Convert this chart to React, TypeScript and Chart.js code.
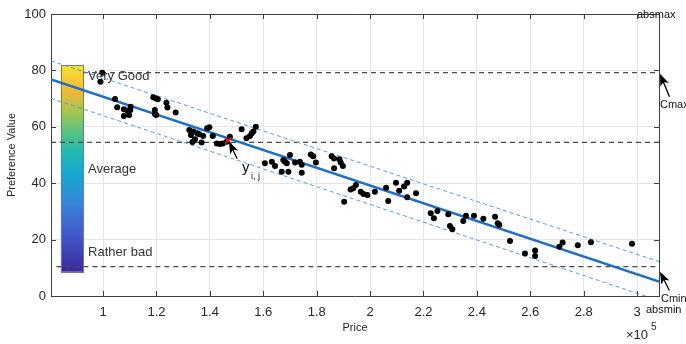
import React, { useEffect, useRef } from 'react';
import { Chart, registerables } from 'chart.js';

Chart.register(...registerables);

// ---- data ----
const X_MIN = 80500;
const X_MAX = 308200;
const xTicks = [100000, 120000, 140000, 160000, 180000, 200000, 220000, 240000, 260000, 280000, 300000];
const xTickLabels = ['1', '1.2', '1.4', '1.6', '1.8', '2', '2.2', '2.4', '2.6', '2.8', '3'];
const yTicks = [0, 20, 40, 60, 80, 100];

const prices = [
  99700, 99000,
  104500, 105300, 107800, 107800, 109100, 109800, 110200, 110300,
  118800, 119700, 120500, 119400, 119400, 119900, 123700, 124100, 127200,
  132300, 132900, 133800, 134400, 135300, 136000, 136900, 137500, 139000, 139800, 141100, 142600, 143800, 144800, 146300, 147500, 133500,
  151900, 155000, 155700, 156300, 157200, 153700,
  160600, 163200, 164400, 167500, 168100, 168800, 166900, 169400, 170000, 171900, 173700, 174400, 174400, 177800, 178700, 179700,
  185600, 186500, 186500, 188500, 189000, 189800, 190300,
  192700, 193700, 194700, 196500, 197500, 199000, 201800, 206000, 206800, 209700, 210900, 212700, 213900, 213900, 217200,
  222700, 223900, 225200, 229300, 229900, 230800, 234900, 235900, 238900, 242400, 246800, 247800, 248400, 252400, 258000, 261800, 261800, 270900, 272100, 277800, 282700, 298100,
];
const preferences = [
  79.2, 76.0,
  69.9, 66.9, 66.2, 63.8, 65.7, 64.2, 66.0, 67.1,
  70.5, 70.1, 69.8, 66.0, 64.5, 64.2, 68.5, 66.8, 65.1,
  58.9, 57.1, 58.3, 55.6, 57.7, 57.4, 54.4, 56.7, 59.5, 59.8, 56.7, 54.1, 53.9, 54.1, 54.7, 56.5, 54.6,
  59.1, 56.7, 57.7, 58.3, 60.0, 55.9,
  47.1, 47.6, 46.1, 48.2, 47.6, 47.1, 44.1, 44.1, 50.0, 47.3, 47.6, 46.5, 43.7, 50.2, 49.6, 47.3,
  49.6, 48.8, 45.3, 48.5, 47.3, 46.1, 33.4,
  37.8, 38.2, 39.4, 37.0, 36.2, 35.8, 37.0, 38.4, 33.7, 40.2, 37.3, 38.8, 40.2, 35.0, 36.4,
  29.3, 27.6, 30.1, 29.0, 24.8, 23.7, 26.6, 28.5, 28.5, 27.4, 28.1, 25.8, 25.2, 19.5, 15.1, 16.1, 14.2, 17.5, 19.0, 18.0, 19.1, 18.5,
];

// fitted line and band end points
const fitX = [X_MIN, X_MAX];
const fitY = [76.8, 5.1];
const upperY = [83.4, 12.2];
const lowerY = [70.1, -1.6];

// reference levels: Cmax, mid, Cmin-ish
const refLevels = [79.2, 54.5, 10.4];
const refStarts = [92500, X_MIN, 82500];

// highlighted sample y_ij
const markX = [146800];
const markY = [55.1];

// colorbar
const cbarX = [84200, 92500];
const cbarY = [8.6, 81.9];
const cbarLabels = ['Very Good', 'Average', 'Rather bad'];
const cbarLabelY = [78.0, 45.0, 15.6];
const parula: [number, string][] = [
  [0.0, '#3b2a9c'],
  [0.18, '#4259cc'],
  [0.33, '#3685d9'],
  [0.47, '#17a8d2'],
  [0.58, '#22b9b0'],
  [0.68, '#5bc383'],
  [0.78, '#a8c54c'],
  [0.87, '#f0b93a'],
  [0.93, '#f9c935'],
  [1.0, '#efe62a'],
];

const pts = prices.map((p, i) => ({ x: p, y: preferences[i] }));

function arrow(ctx: CanvasRenderingContext2D, tx: number, ty: number, dx: number, dy: number, len: number) {
  const l = Math.hypot(dx, dy);
  const ux = dx / l, uy = dy / l;
  const px = -uy, py = ux;
  const head = 12, hw = 4.5;
  ctx.save();
  ctx.fillStyle = '#000';
  ctx.strokeStyle = '#000';
  ctx.beginPath();
  ctx.moveTo(tx, ty);
  ctx.lineTo(tx + ux * head + px * hw, ty + uy * head + py * hw);
  ctx.lineTo(tx + ux * head * 0.75, ty + uy * head * 0.75);
  ctx.lineTo(tx + ux * head - px * hw, ty + uy * head - py * hw);
  ctx.closePath();
  ctx.fill();
  ctx.lineWidth = 1.3;
  ctx.beginPath();
  ctx.moveTo(tx + ux * head * 0.7, ty + uy * head * 0.7);
  ctx.lineTo(tx + ux * len, ty + uy * len);
  ctx.stroke();
  ctx.restore();
}

const FONT = '"Liberation Sans", Arial, sans-serif';

const decor = {
  id: 'decor',
  beforeDatasetsDraw(chart: any) {
    const { ctx, scales } = chart;
    const x = scales.x, y = scales.y;
    const x0 = x.getPixelForValue(cbarX[0]);
    const x1 = x.getPixelForValue(cbarX[1]);
    const yb = y.getPixelForValue(cbarY[0]);
    const yt = y.getPixelForValue(cbarY[1]);
    const g = ctx.createLinearGradient(0, yb, 0, yt);
    parula.forEach(([s, c]) => g.addColorStop(s, c));
    ctx.save();
    ctx.fillStyle = g;
    ctx.fillRect(x0, yt, x1 - x0, yb - yt);
    ctx.strokeStyle = '#7a7a7a';
    ctx.lineWidth = 1;
    ctx.strokeRect(Math.round(x0) + 0.5, Math.round(yt) + 0.5, Math.round(x1 - x0), Math.round(yb - yt));
    ctx.fillStyle = '#333';
    ctx.font = `13px ${FONT}`;
    ctx.textBaseline = 'middle';
    ctx.textAlign = 'left';
    cbarLabels.forEach((t, i) => ctx.fillText(t, x1 + 5, y.getPixelForValue(cbarLabelY[i])));
    ctx.restore();
  },
  afterDraw(chart: any) {
    const { ctx, scales, chartArea: a } = chart;
    const x = scales.x, y = scales.y;
    ctx.save();
    // box + inward ticks
    ctx.strokeStyle = '#404040';
    ctx.lineWidth = 1;
    ctx.beginPath();
    ctx.moveTo(a.left, a.top + 0.5);
    ctx.lineTo(a.right + 0.5, a.top + 0.5);
    ctx.lineTo(a.right + 0.5, a.bottom);
    xTicks.forEach((v) => {
      const px = Math.round(x.getPixelForValue(v)) + 0.5;
      ctx.moveTo(px, a.bottom);
      ctx.lineTo(px, a.bottom - 5);
      ctx.moveTo(px, a.top);
      ctx.lineTo(px, a.top + 5);
    });
    yTicks.forEach((v) => {
      const py = Math.round(y.getPixelForValue(v)) + 0.5;
      ctx.moveTo(a.left, py);
      ctx.lineTo(a.left + 5, py);
      ctx.moveTo(a.right, py);
      ctx.lineTo(a.right - 5, py);
    });
    ctx.stroke();

    // axis titles
    ctx.fillStyle = '#262626';
    ctx.font = `11px ${FONT}`;
    ctx.textAlign = 'center';
    ctx.textBaseline = 'middle';
    ctx.fillText('Price', (a.left + a.right) / 2, 328);
    ctx.save();
    ctx.translate(12, (a.top + a.bottom) / 2);
    ctx.rotate(-Math.PI / 2);
    ctx.fillText('Preference Value', 0, 0);
    ctx.restore();

    // exponent
    ctx.textAlign = 'left';
    ctx.font = `13px ${FONT}`;
    ctx.fillText('×10', a.right - 33, 335);
    ctx.font = `10px ${FONT}`;
    ctx.fillText('5', a.right - 8, 327);

    // y_ij annotation
    const mx = x.getPixelForValue(markX[0]);
    const my = y.getPixelForValue(markY[0]);
    arrow(ctx, mx + 1, my + 1, 8, 17, 19);
    ctx.fillStyle = '#111';
    ctx.textBaseline = 'alphabetic';
    ctx.font = `15px ${FONT}`;
    ctx.fillText('y', mx + 14, my + 31);
    ctx.font = `9px ${FONT}`;
    ctx.fillText('i, j', mx + 23, my + 38);

    // Cmax / Cmin annotations
    const rx = x.getPixelForValue(X_MAX);
    const cmaxY = y.getPixelForValue(refLevels[0]);
    const cminY = y.getPixelForValue(8.6);
    arrow(ctx, rx + 1, cmaxY + 1, 9, 22, 25);
    arrow(ctx, rx + 1, cminY, 9, 18, 21);
    ctx.font = `11px ${FONT}`;
    ctx.fillStyle = '#111';
    ctx.textBaseline = 'middle';
    ctx.fillText('Cmax', rx + 1, cmaxY + 32);
    ctx.fillText('Cmin', rx + 2, a.bottom + 3);
    ctx.fillText('absmin', rx - 13, a.bottom + 14);
    ctx.fillText('absmax', rx - 22, a.top + 1);
    ctx.restore();
  },
};

export default function App() {
  const ref = useRef<HTMLCanvasElement>(null);
  useEffect(() => {
    const refSets = refLevels.map((lv, i) => ({
      type: 'line' as const,
      data: [{ x: refStarts[i], y: lv }, { x: X_MAX, y: lv }],
      borderColor: '#4a4a4a',
      borderWidth: 1.2,
      borderDash: [5, 4],
      pointRadius: 0,
      fill: false,
    }));
    const chart = new Chart(ref.current as HTMLCanvasElement, {
      type: 'scatter',
      data: {
        datasets: [
          {
            data: markX.map((v, i) => ({ x: v, y: markY[i] })),
            pointStyle: 'crossRot',
            pointRadius: 4.5,
            borderColor: '#e02020',
            borderWidth: 1.6,
            backgroundColor: '#e02020',
          },
          {
            data: pts,
            pointRadius: 3,
            pointBackgroundColor: '#000',
            pointBorderColor: '#000',
            pointBorderWidth: 0,
          },
          {
            type: 'line',
            data: fitX.map((v, i) => ({ x: v, y: fitY[i] })),
            borderColor: '#1f6fc2',
            borderWidth: 2.6,
            pointRadius: 0,
            fill: false,
          },
          {
            type: 'line',
            data: fitX.map((v, i) => ({ x: v, y: upperY[i] })),
            borderColor: '#5a9ee0',
            borderWidth: 1,
            borderDash: [4, 3],
            pointRadius: 0,
            fill: false,
          },
          {
            type: 'line',
            data: fitX.map((v, i) => ({ x: v, y: lowerY[i] })),
            borderColor: '#5a9ee0',
            borderWidth: 1,
            borderDash: [4, 3],
            pointRadius: 0,
            fill: false,
          },
          ...refSets,
        ] as any,
      },
      options: {
        responsive: false,
        animation: false,
        devicePixelRatio: 1,
        layout: { padding: { left: 0, right: 27, top: 14, bottom: 0 } },
        plugins: { legend: { display: false }, tooltip: { enabled: false } },
        scales: {
          x: {
            type: 'linear',
            min: X_MIN,
            max: X_MAX,
            afterBuildTicks: (s: any) => { s.ticks = xTicks.map((v) => ({ value: v })); },
            afterFit: (s: any) => { s.height = 48; },
            grid: { color: '#e6e6e6', drawTicks: false },
            border: { display: true, color: '#404040' },
            ticks: {
              autoSkip: false,
              maxRotation: 0,
              padding: 9,
              color: '#262626',
              font: { size: 13, family: FONT },
              callback: (_v: any, i: number) => xTickLabels[i],
            },
          },
          y: {
            type: 'linear',
            min: 0,
            max: 100,
            afterBuildTicks: (s: any) => { s.ticks = yTicks.map((v) => ({ value: v })); },
            afterFit: (s: any) => { s.width = 51; },
            grid: { color: '#e6e6e6', drawTicks: false },
            border: { display: true, color: '#404040' },
            ticks: {
              padding: 5,
              color: '#262626',
              font: { size: 13, family: FONT },
              callback: (v: any) => String(v),
            },
          },
        },
      },
      plugins: [decor],
    });
    return () => chart.destroy();
  }, []);
  return (
    <div style={{ position: 'fixed', left: 0, top: 0, width: 686, height: 344, background: '#fff' }}>
      <canvas ref={ref} width={686} height={344} />
    </div>
  );
}
